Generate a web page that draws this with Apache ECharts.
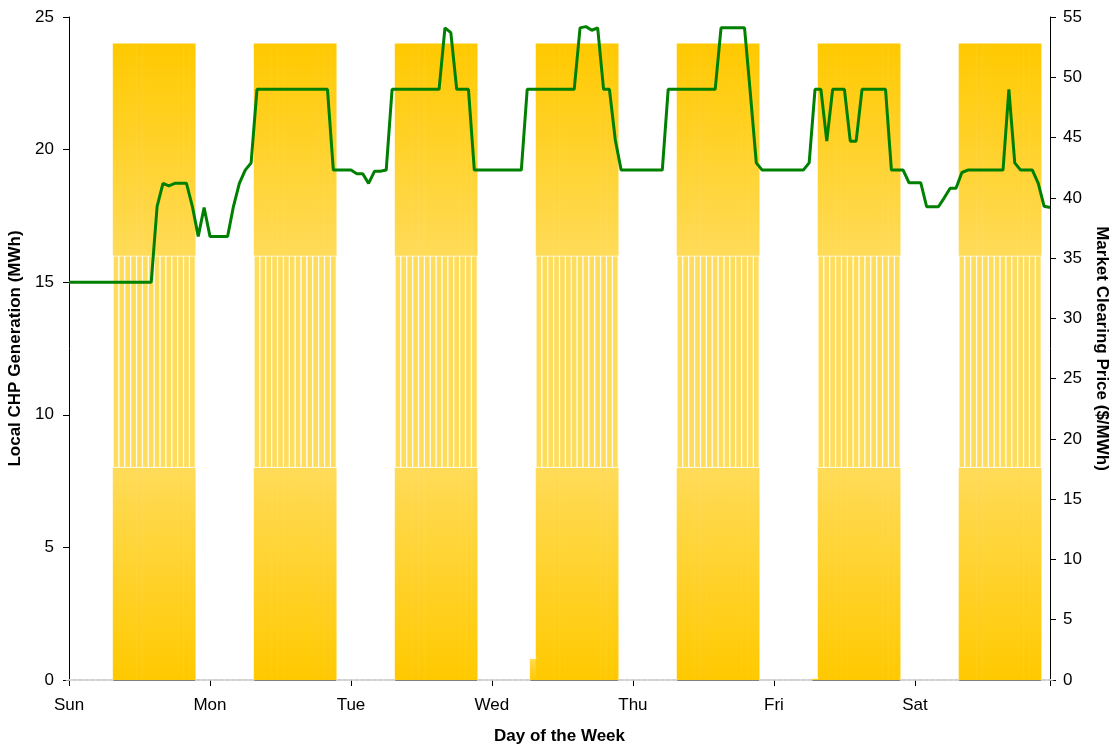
<!DOCTYPE html>
<html>
<head>
<meta charset="utf-8">
<title>Local CHP Generation and Market Clearing Price</title>
<script src="https://cdn.jsdelivr.net/npm/echarts@6/dist/echarts.min.js"></script>
<style>
  html, body { margin: 0; padding: 0; background: #ffffff; }
  #chart { width: 1109px; height: 745px; }
</style>
</head>
<body>
<div id="chart"></div>
<script>
// Day names shown at the midnight tick of each day
const dayNames = ['Sun', 'Mon', 'Tue', 'Wed', 'Thu', 'Fri', 'Sat'];

// Hourly generation of the three CHP units (MWh), one row per day, hours 0..23
const unitA = [
  0,0,0,0,0,0,0,0,8,8,8,8,8,8,8,8,8,8,8,8,8,8,0,0,
  0,0,0,0,0,0,0,0,8,8,8,8,8,8,8,8,8,8,8,8,8,8,0,0,
  0,0,0,0,0,0,0,0,8,8,8,8,8,8,8,8,8,8,8,8,8,8,0,0,
  0,0,0,0,0,0,0,0.82,8,8,8,8,8,8,8,8,8,8,8,8,8,8,0,0,
  0,0,0,0,0,0,0,0,8,8,8,8,8,8,8,8,8,8,8,8,8,8,0,0,
  0,0,0,0,0,0,0,0.07,8,8,8,8,8,8,8,8,8,8,8,8,8,8,0,0,
  0,0,0,0,0,0,0,0,8,8,8,8,8,8,8,8,8,8,8,8,8,8,0,0
];
const unitB = [
  0,0,0,0,0,0,0,0,8,8,8,8,8,8,8,8,8,8,8,8,8,8,0,0,
  0,0,0,0,0,0,0,0,8,8,8,8,8,8,8,8,8,8,8,8,8,8,0,0,
  0,0,0,0,0,0,0,0,8,8,8,8,8,8,8,8,8,8,8,8,8,8,0,0,
  0,0,0,0,0,0,0,0,8,8,8,8,8,8,8,8,8,8,8,8,8,8,0,0,
  0,0,0,0,0,0,0,0,8,8,8,8,8,8,8,8,8,8,8,8,8,8,0,0,
  0,0,0,0,0,0,0,0,8,8,8,8,8,8,8,8,8,8,8,8,8,8,0,0,
  0,0,0,0,0,0,0,0,8,8,8,8,8,8,8,8,8,8,8,8,8,8,0,0
];
const unitC = [
  0,0,0,0,0,0,0,0,8,8,8,8,8,8,8,8,8,8,8,8,8,8,0,0,
  0,0,0,0,0,0,0,0,8,8,8,8,8,8,8,8,8,8,8,8,8,8,0,0,
  0,0,0,0,0,0,0,0,8,8,8,8,8,8,8,8,8,8,8,8,8,8,0,0,
  0,0,0,0,0,0,0,0,8,8,8,8,8,8,8,8,8,8,8,8,8,8,0,0,
  0,0,0,0,0,0,0,0,8,8,8,8,8,8,8,8,8,8,8,8,8,8,0,0,
  0,0,0,0,0,0,0,0,8,8,8,8,8,8,8,8,8,8,8,8,8,8,0,0,
  0,0,0,0,0,0,0,0,8,8,8,8,8,8,8,8,8,8,8,8,8,8,0,0
];

// Hourly market clearing price ($/MWh), one row per day
const price = [
  33,33,33,33,33,33,33,33,33,33,33,33,33,33,33,39.3,41.2,41.0,41.2,41.2,41.2,39.3,36.8,39.2,
  36.8,36.8,36.8,36.8,39.3,41.2,42.3,42.9,49,49,49,49,49,49,49,49,49,49,49,49,49,42.3,42.3,42.3,
  42.3,42.0,42.0,41.2,42.2,42.2,42.3,49,49,49,49,49,49,49,49,49,54.1,53.7,49,49,49,42.3,42.3,42.3,
  42.3,42.3,42.3,42.3,42.3,42.3,49,49,49,49,49,49,49,49,49,54.1,54.2,53.9,54.1,49,49,44.8,42.3,42.3,
  42.3,42.3,42.3,42.3,42.3,42.3,49,49,49,49,49,49,49,49,49,54.1,54.1,54.1,54.1,54.1,48.6,42.9,42.3,42.3,
  42.3,42.3,42.3,42.3,42.3,42.3,42.9,49,49,44.7,49,49,49,44.7,44.7,49,49,49,49,49,42.3,42.3,42.3,41.25,
  41.25,41.25,39.26,39.26,39.26,40.0,40.8,40.8,42.1,42.3,42.3,42.3,42.3,42.3,42.3,42.3,49,42.9,42.3,42.3,42.3,41.2,39.3,39.2
];

// Hour index categories for the week
const hours = price.map((_, i) => i);

const FONT = 'Liberation Sans, Arial, sans-serif';
const lg = echarts.graphic.LinearGradient;

const chart = echarts.init(document.getElementById('chart'), null, { renderer: 'canvas' });

// Columns are drawn a touch wider than an hour so neighbours overlap without seams
const barCommon = {
  type: 'bar',
  stack: 'chp',
  barWidth: 6.4,
  yAxisIndex: 0,
  silent: true
};

const titleStyle = { fontFamily: FONT, fontSize: 17, fontWeight: 'bold', color: '#000' };

chart.setOption({
  animation: false,
  backgroundColor: '#ffffff',
  grid: { left: 69, right: 59, top: 17, bottom: 65, containLabel: false, outerBoundsMode: 'none' },
  xAxis: {
    type: 'category',
    data: hours,
    boundaryGap: false,
    name: 'Day of the Week',
    nameLocation: 'middle',
    nameGap: 48,
    nameTextStyle: titleStyle,
    axisLine: { lineStyle: { color: '#808080', width: 2 } },
    axisTick: {
      interval: (i) => i % 24 === 0 || i === hours.length - 1,
      length: 6,
      lineStyle: { color: '#000', width: 1 }
    },
    axisLabel: {
      interval: (i) => i % 24 === 0,
      formatter: (v) => dayNames[Math.floor(Number(v) / 24)],
      margin: 17,
      fontFamily: FONT,
      fontSize: 17,
      color: '#000'
    },
    splitLine: { show: false }
  },
  yAxis: [
    {
      type: 'value',
      min: 0,
      max: 25,
      interval: 5,
      name: 'Local CHP Generation (MWh)',
      nameLocation: 'middle',
      nameGap: 40,
      nameRotate: 90,
      nameTextStyle: titleStyle,
      axisLine: { show: true, lineStyle: { color: '#000', width: 1 } },
      axisTick: { show: true, length: 6, lineStyle: { color: '#000' } },
      axisLabel: { margin: 15, fontFamily: FONT, fontSize: 17, color: '#000' },
      splitLine: { show: false }
    },
    {
      type: 'value',
      min: 0,
      max: 55,
      interval: 5,
      position: 'right',
      name: 'Market Clearing Price ($/MWh)',
      nameLocation: 'middle',
      nameGap: 40,
      nameRotate: -90,
      nameTextStyle: titleStyle,
      axisLine: { show: true, lineStyle: { color: '#000', width: 1 } },
      axisTick: { show: true, length: 6, lineStyle: { color: '#000' } },
      axisLabel: { margin: 13, fontFamily: FONT, fontSize: 17, color: '#000' },
      splitLine: { show: false }
    }
  ],
  series: [
    Object.assign({}, barCommon, {
      name: 'Unit A',
      data: unitA,
      itemStyle: {
        color: new lg(0, 0, 0, 1, [
          { offset: 0, color: '#FFDB58' },
          { offset: 1, color: '#FFC900' }
        ])
      }
    }),
    Object.assign({}, barCommon, {
      name: 'Unit B',
      data: unitB,
      itemStyle: {
        color: '#FFDD5C',
        borderColor: '#ffffff',
        borderWidth: 0.8
      }
    }),
    Object.assign({}, barCommon, {
      name: 'Unit C',
      data: unitC,
      itemStyle: {
        color: new lg(0, 0, 0, 1, [
          { offset: 0, color: '#FFC900' },
          { offset: 1, color: '#FFDB58' }
        ])
      }
    }),
    {
      name: 'Market Clearing Price',
      type: 'line',
      yAxisIndex: 1,
      data: price,
      symbol: 'none',
      smooth: false,
      z: 5,
      lineStyle: { color: '#008000', width: 3 },
      silent: true
    }
  ]
});
</script>
</body>
</html>
